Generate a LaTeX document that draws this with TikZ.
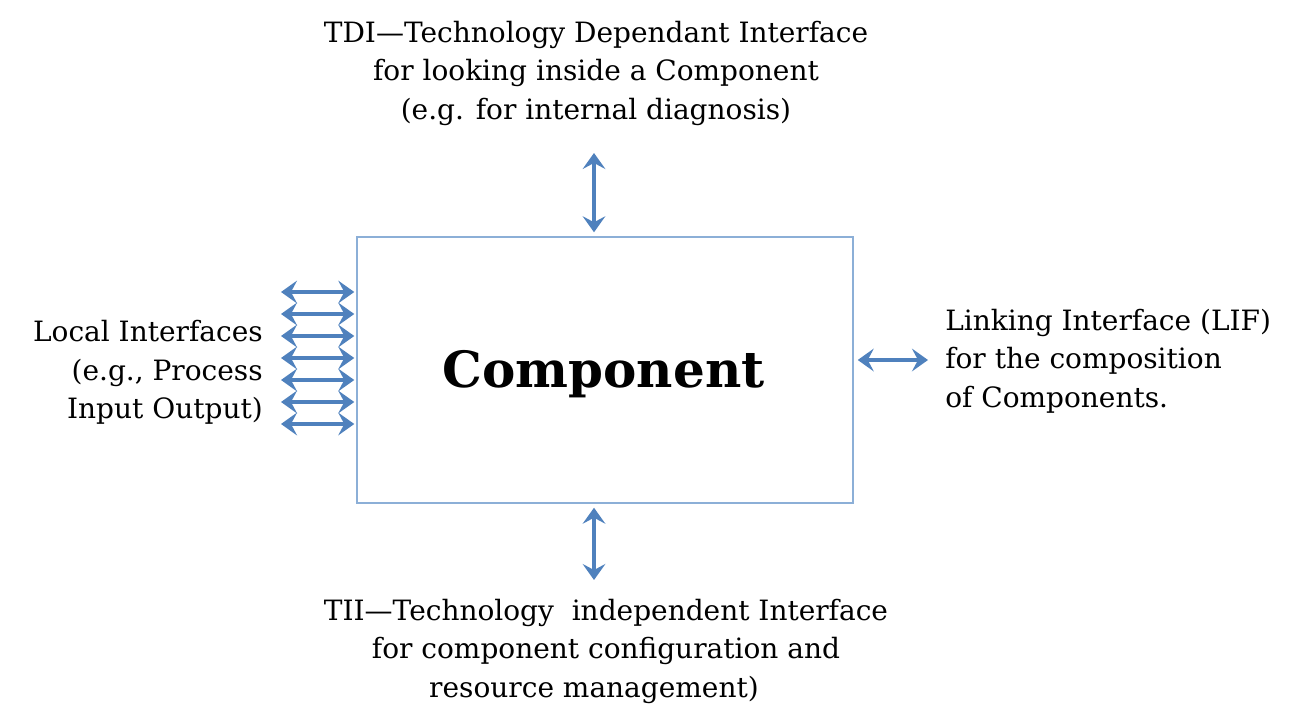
\documentclass[tikz,border=0pt]{standalone}
\usepackage{fontspec}
\setmainfont{DejaVu Serif}
\usetikzlibrary{arrows.meta}
\definecolor{arrowblue}{RGB}{79,129,189}
\definecolor{boxblue}{RGB}{140,175,215}
\tikzset{
  biarrow/.style={draw=arrowblue, line width=3pt,
    arrows={Stealth[length=12pt,width=17pt,inset=4.5pt]-Stealth[length=12pt,width=17pt,inset=4.5pt]}},
  compbox/.style={draw=boxblue, line width=1.1pt, minimum width=372pt, minimum height=199.5pt, inner sep=0pt},
  lbl/.style={inner sep=0pt, font=\fontsize{21}{29}\selectfont}
}
\begin{document}
\begin{tikzpicture}[x=0.75pt,y=-0.75pt]
\useasboundingbox (0,0) rectangle (1303,717);
\node[compbox] (comp) at (605,370) {};
\node[anchor=base, inner sep=0pt, font=\fontsize{37.5}{40}\selectfont\bfseries] (complabel) at (603.5,387) {Component};
\node[lbl, anchor=north, align=center] (tdi) at (596,20.7) {TDI—Technology Dependant Interface\\for looking inside a Component\\(e.g. for internal diagnosis)};
\node[lbl, anchor=north east, align=right] (local) at (263,320) {Local Interfaces\\(e.g., Process\\Input Output)};
\node[lbl, anchor=north west, align=left] (lif) at (945,308.5) {Linking Interface (LIF)\\for the composition\\of Components.};
\node[lbl, anchor=north, align=center] (tii) at (606,598.5) {TII—Technology\ \ independent Interface\\for component configuration and\\resource management)\hspace*{18pt}};
\coordinate (topA) at (594,153);
\coordinate (botA) at (594,580);
\coordinate (rightA) at (928,360);
\draw[biarrow, shorten >=3pt] (topA) -- (topA |- comp.north);
\draw[biarrow, shorten >=3pt] (botA) -- (botA |- comp.south);
\draw[biarrow, shorten >=3pt] (rightA) -- (rightA -| comp.east);
\foreach \i in {0,...,6} {
  \coordinate (loc\i) at (281,292+22*\i);
  \draw[biarrow, shorten >=1.5pt] (loc\i) -- (loc\i -| comp.west);
}
\end{tikzpicture}
\end{document}
